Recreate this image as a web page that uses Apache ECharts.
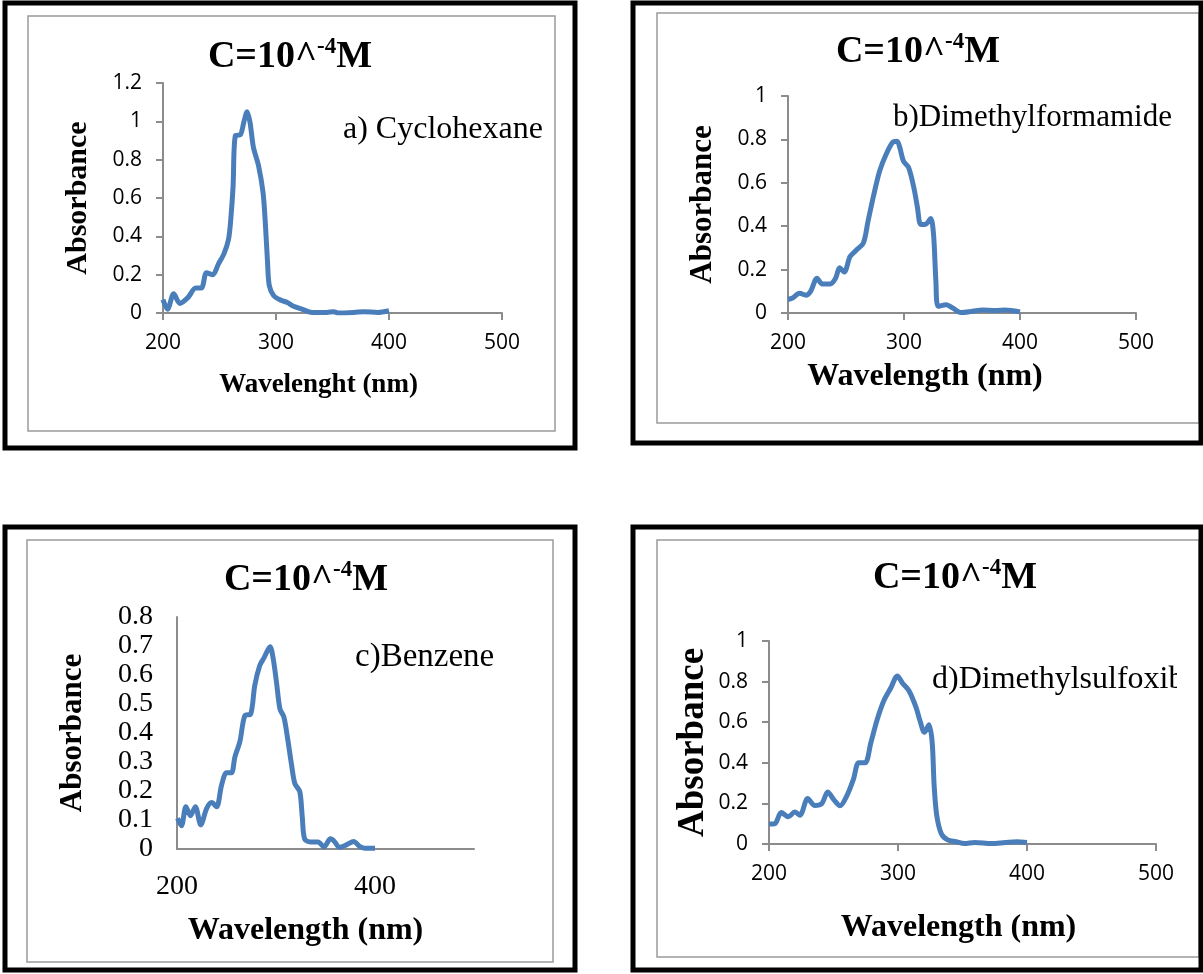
<!DOCTYPE html>
<html lang="en">
<head>
<meta charset="UTF-8">
<title>UV absorbance spectra</title>
<script src="https://cdn.jsdelivr.net/npm/echarts@6/dist/echarts.min.js"></script>
<style>
  html, body { margin: 0; padding: 0; background: #fff; }
  #chart { width: 1203px; height: 974px; }
</style>
</head>
<body>
<div id="chart"></div>
<script>
// spectra (wavelength nm / absorbance)
const aWave = [200, 204, 209.5, 215, 222, 229, 234, 238.5, 244, 249, 254, 258, 260, 262, 264, 268.5, 271.5, 274.5, 277, 280, 284.5, 288.5, 290.5, 292.5, 294, 298, 305, 310, 315.5, 323, 332, 345, 351, 355.5, 369, 378, 390, 400];
const aAbs = [0.07, 0.02, 0.10, 0.05, 0.08, 0.13, 0.13, 0.21, 0.20, 0.255, 0.31, 0.385, 0.49, 0.66, 0.925, 0.93, 0.995, 1.05, 0.995, 0.865, 0.77, 0.63, 0.475, 0.265, 0.145, 0.09, 0.065, 0.055, 0.035, 0.02, 0.003, 0.003, 0.007, 0.0, 0.003, 0.007, 0.003, 0.012];

const bWave = [200, 204, 210, 215.5, 219.5, 225, 229.5, 236.5, 241, 244.5, 248.5, 253.5, 259, 265, 269, 274, 279, 284.5, 290, 294, 296.5, 299.5, 304, 308.5, 311.5, 314.5, 319, 323, 325.5, 327.5, 329.5, 336.5, 342, 349, 359, 367.5, 379, 387, 400];
const bAbs = [0.062, 0.069, 0.091, 0.082, 0.10, 0.16, 0.134, 0.134, 0.16, 0.208, 0.189, 0.26, 0.29, 0.323, 0.423, 0.546, 0.654, 0.73, 0.785, 0.792, 0.76, 0.70, 0.67, 0.577, 0.49, 0.408, 0.41, 0.435, 0.36, 0.146, 0.031, 0.038, 0.023, 0.002, 0.008, 0.014, 0.012, 0.014, 0.005];

const cWave = [200.5, 204.5, 209, 213.5, 218.5, 224, 230, 235, 240, 245, 250, 255, 258.5, 263.5, 268.5, 274.5, 278.5, 283.5, 288, 294, 297, 300.5, 304, 308, 312, 315.5, 319, 324, 326.5, 329, 335.5, 342.5, 348.5, 355, 359, 364, 371, 378.5, 384.5, 389.5, 400];
const cAbs = [0.106, 0.08, 0.146, 0.115, 0.146, 0.083, 0.14, 0.16, 0.146, 0.22, 0.263, 0.263, 0.318, 0.37, 0.46, 0.466, 0.563, 0.632, 0.66, 0.697, 0.66, 0.575, 0.483, 0.455, 0.375, 0.295, 0.226, 0.198, 0.112, 0.034, 0.024, 0.024, 0.007, 0.035, 0.026, 0.006, 0.014, 0.026, 0.009, 0.003, 0.003];

const dWave = [200, 204.5, 209.5, 215, 220, 224, 230, 235.5, 241, 245.5, 250.5, 255, 260.5, 265.5, 269.5, 274.5, 279, 284, 289, 294.5, 299.5, 303.5, 308.5, 314, 317, 320.5, 324, 326.5, 328, 330, 333.5, 338.5, 345, 351.5, 359.5, 372.5, 383, 392, 400];
const dAbs = [0.098, 0.10, 0.155, 0.134, 0.158, 0.142, 0.224, 0.19, 0.20, 0.256, 0.216, 0.188, 0.24, 0.32, 0.40, 0.40, 0.50, 0.616, 0.706, 0.77, 0.828, 0.792, 0.755, 0.673, 0.608, 0.55, 0.587, 0.50, 0.29, 0.142, 0.052, 0.02, 0.011, 0.002, 0.008, 0.002, 0.007, 0.011, 0.008];

const solvents = ['a) Cyclohexane', 'b)Dimethylformamide', 'c)Benzene', 'd)Dimethylsulfoxib'];
const xNames = ['Wavelenght (nm)', 'Wavelength (nm)', 'Wavelength (nm)', 'Wavelength (nm)'];
const yMax = [1.2, 1, 0.8, 1];
const yStep = [0.2, 0.2, 0.1, 0.2];
const xStep = [100, 100, 200, 100];

const SERIF = '"Liberation Serif", "Times New Roman", serif';
const SANS = '"Open Sans", "Noto Sans", sans-serif';
const BLUE = '#4a7ebb';
const AXIS = '#8c8c8c';

// layout of each panel (pixels)
const layout = [
  { box: [5, 3, 570, 445], inner: [28, 16, 527, 415], grid: [163, 83, 502, 313],
    title: [290, 57], label: [343, 130], labelSize: 32, yGap: 70, xGap: 59, xShift: -14, yName: 30, xName: 27,
    tickFont: SANS, tickSize: 21, ticks: true },
  { box: [633, 3, 568, 440], inner: [657, 13, 542, 410], grid: [788, 96, 1136, 313],
    title: [918, 52], label: [893, 118], labelSize: 31, yGap: 70, xGap: 48, xShift: -37, yName: 31, xName: 32,
    tickFont: SANS, tickSize: 21, ticks: true },
  { box: [5, 527, 570, 443], inner: [27, 540, 526, 422], grid: [177, 617, 474, 849],
    title: [306, 580], label: [355, 657], labelSize: 33, yGap: 89, xGap: 66, xShift: -20, yName: 31, xName: 32,
    tickFont: SERIF, tickSize: 28, ticks: false },
  { box: [633, 527, 568, 443], inner: [657, 540, 542, 417], grid: [769, 641, 1156, 844],
    title: [955, 578], label: [932, 680], labelSize: 32, yGap: 57, xGap: 68, xShift: -4, yName: 37, xName: 32,
    tickFont: SANS, tickSize: 21, ticks: true }
];

const waves = [aWave, bWave, cWave, dWave];
const absorb = [aAbs, bAbs, cAbs, dAbs];

const grid = [], xAxis = [], yAxis = [], series = [], graphic = [];

layout.forEach((p, i) => {
  const [l, t, r, b] = p.grid;
  grid.push({ left: l, top: t, width: r - l, height: b - t, containLabel: false });

  xAxis.push({
    type: 'value', gridIndex: i, min: 200, max: 500, interval: xStep[i],
    name: xNames[i], nameLocation: 'middle', nameGap: p.xGap,
    nameTextStyle: { fontFamily: SERIF, fontWeight: 'bold', fontSize: p.xName, color: '#000',
      padding: p.xShift < 0 ? [0, -2 * p.xShift, 0, 0] : [0, 0, 0, 2 * p.xShift] },
    axisLine: { lineStyle: { color: AXIS, width: 2 } },
    axisTick: { show: p.ticks, length: 7, lineStyle: { color: AXIS, width: 2 } },
    axisLabel: { fontFamily: p.tickFont, fontSize: p.tickSize, color: '#000', margin: p.ticks ? 20 : 24,
      formatter: v => (i === 2 && v === 500) ? '' : String(v) },
    splitLine: { show: false }
  });

  yAxis.push({
    type: 'value', gridIndex: i, min: 0, max: yMax[i], interval: yStep[i],
    name: 'Absorbance', nameLocation: 'middle', nameGap: p.yGap, nameRotate: 90,
    nameTextStyle: { fontFamily: SERIF, fontWeight: 'bold', fontSize: p.yName, color: '#000' },
    axisLine: { show: true, lineStyle: { color: AXIS, width: 2 } },
    axisTick: { show: p.ticks, length: 7, lineStyle: { color: AXIS, width: 2 } },
    axisLabel: { fontFamily: p.tickFont, fontSize: p.tickSize, color: '#000', margin: p.ticks ? 21 : 24 },
    splitLine: { show: false }
  });

  series.push({
    type: 'line', xAxisIndex: i, yAxisIndex: i,
    data: waves[i].map((w, k) => [w, absorb[i][k]]),
    smooth: 0.3, symbol: 'none',
    lineStyle: { color: BLUE, width: 5 }
  });

  // frames
  graphic.push({
    type: 'rect', z: 1, silent: true,
    shape: { x: p.inner[0], y: p.inner[1], width: p.inner[2], height: p.inner[3] },
    style: { fill: null, stroke: '#9a9a9a', lineWidth: 1.5 }
  });
  graphic.push({
    type: 'rect', z: 100, silent: true,
    shape: { x: p.box[0], y: p.box[1], width: p.box[2], height: p.box[3] },
    style: { fill: null, stroke: '#000', lineWidth: 5 }
  });

  // title C=10^-4M
  graphic.push({
    type: 'text', z: 50, silent: true, x: p.title[0], y: p.title[1],
    style: {
      text: '{m|C=10^}{s|-4}{m|M}',
      align: 'center', verticalAlign: 'middle',
      rich: {
        m: { fontFamily: SERIF, fontWeight: 'bold', fontSize: 38, lineHeight: 42, fill: '#000' },
        s: { fontFamily: SERIF, fontWeight: 'bold', fontSize: 23, lineHeight: 42, verticalAlign: 'top', padding: [0, 0, 15, 0], fill: '#000' }
      }
    }
  });

  // solvent label
  graphic.push({
    type: 'text', z: 50, silent: true, x: p.label[0], y: p.label[1],
    style: { text: solvents[i], fontFamily: SERIF, fontSize: p.labelSize, fill: '#000', align: 'left', verticalAlign: 'middle' }
  });
});

// the chart area cuts the last solvent label short
graphic.push({
  type: 'rect', z: 60, silent: true,
  shape: { x: 1177, y: 655, width: 20, height: 50 },
  style: { fill: '#fff' }
});

const chart = echarts.init(document.getElementById('chart'));
chart.setOption({
  backgroundColor: '#fff',
  animation: false,
  grid, xAxis, yAxis, series, graphic
});
</script>
</body>
</html>
